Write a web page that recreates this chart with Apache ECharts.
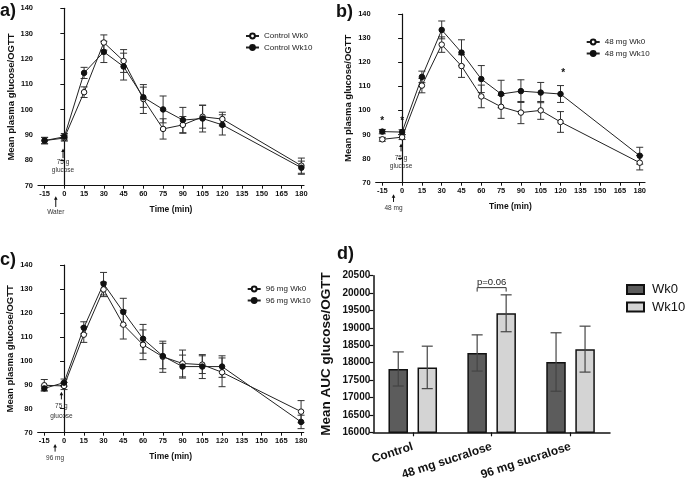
<!DOCTYPE html>
<html><head><meta charset="utf-8">
<script src="https://cdn.jsdelivr.net/npm/echarts@6/dist/echarts.min.js"></script>
<style>html,body{margin:0;padding:0;background:#fff}#c{width:685px;height:482px}</style>
</head><body><div id="c"></div>
<script>
// ---- data ----
const times = [-15, 0, 15, 30, 45, 60, 75, 90, 105, 120, 180];
const xTicks = [-15, 0, 15, 30, 45, 60, 75, 90, 105, 120, 135, 150, 165, 180];
const ctrlWk0 = [87.8, 88.8, 106.9, 126.5, 119.2, 104.2, 92.4, 94.0, 97.2, 96.3, 77.9];
const ctrlWk0Err = [1.3, 1.2, 2.1, 3.0, 4.5, 5.7, 4.0, 3.3, 4.5, 2.7, 3.0];
const ctrlWk10 = [87.8, 89.3, 114.5, 122.8, 117.0, 104.9, 100.1, 95.9, 96.5, 94.0, 77.1];
const ctrlWk10Err = [1.2, 1.3, 2.2, 4.2, 5.3, 4.0, 5.3, 5.0, 5.3, 4.0, 2.6];
const mg48Wk0 = [88.0, 88.9, 110.3, 127.3, 118.4, 105.8, 101.5, 99.1, 100.0, 95.2, 78.3];
const mg48Wk0Err = [0.8, 1.0, 3.0, 3.2, 4.7, 4.7, 4.8, 4.6, 3.7, 4.3, 3.0];
const mg48Wk10 = [91.2, 91.0, 113.9, 133.4, 124.0, 113.0, 106.8, 108.0, 107.4, 106.8, 81.2];
const mg48Wk10Err = [0.9, 1.0, 2.4, 3.7, 5.3, 5.6, 5.7, 4.7, 4.2, 3.5, 3.5];
const mg96Wk0 = [89.8, 89.5, 110.9, 129.8, 115.1, 106.7, 101.7, 98.9, 98.4, 95.2, 78.8];
const mg96Wk0Err = [2.4, 1.5, 3.2, 3.0, 6.0, 6.2, 6.5, 5.6, 3.7, 6.0, 4.6];
const mg96Wk10 = [88.5, 90.9, 113.8, 132.2, 120.4, 109.2, 102.0, 97.6, 97.6, 97.6, 74.5];
const mg96Wk10Err = [1.0, 1.5, 2.5, 4.7, 5.7, 6.0, 5.3, 4.8, 5.0, 4.5, 2.8];
const groups = ['Control', '48 mg sucralose', '96 mg sucralose'];
const aucWk0 = [17820, 18280, 18020];
const aucWk0Err = [490, 520, 840];
const aucWk10 = [17865, 19420, 18390];
const aucWk10Err = [610, 530, 660];

const FONT = 'Liberation Sans, Arial, Helvetica, sans-serif';
const INK = '#111';

function lineSeries(name, gi, vals, open) {
  return {
    type: 'line', name, xAxisIndex: gi, yAxisIndex: gi,
    data: times.map((t, i) => [t, vals[i]]),
    symbol: 'circle', symbolSize: 5.5, z: 3,
    lineStyle: { color: '#222', width: 1 },
    itemStyle: { color: open ? '#fff' : INK, borderColor: INK, borderWidth: 1 }
  };
}
function errSeries(gi, vals, errs) {
  return {
    type: 'custom', xAxisIndex: gi, yAxisIndex: gi, z: 2,
    data: times.map((t, i) => [t, vals[i] - errs[i], vals[i] + errs[i]]),
    encode: { x: 0, y: [1, 2] },
    renderItem(params, api) {
      const x = api.value(0);
      const lo = api.coord([x, api.value(1)]);
      const hi = api.coord([x, api.value(2)]);
      const w = 3.5, st = { stroke: '#333', lineWidth: 1 };
      return { type: 'group', children: [
        { type: 'line', shape: { x1: lo[0], y1: lo[1], x2: hi[0], y2: hi[1] }, style: st },
        { type: 'line', shape: { x1: lo[0] - w, y1: lo[1], x2: lo[0] + w, y2: lo[1] }, style: st },
        { type: 'line', shape: { x1: hi[0] - w, y1: hi[1], x2: hi[0] + w, y2: hi[1] }, style: st }
      ]};
    }
  };
}
function barErr(vals, errs, off) {
  return {
    type: 'custom', xAxisIndex: 3, yAxisIndex: 3, z: 4,
    data: vals.map((v, i) => [i, v - errs[i], v + errs[i]]),
    encode: { x: 0, y: [1, 2] },
    renderItem(params, api) {
      const c = api.value(0);
      const lo = api.coord([c, api.value(1)]);
      const hi = api.coord([c, api.value(2)]);
      const x = lo[0] + off, w = 5.5, st = { stroke: '#444', lineWidth: 1.2 };
      return { type: 'group', children: [
        { type: 'line', shape: { x1: x, y1: lo[1], x2: x, y2: hi[1] }, style: st },
        { type: 'line', shape: { x1: x - w, y1: lo[1], x2: x + w, y2: lo[1] }, style: st },
        { type: 'line', shape: { x1: x - w, y1: hi[1], x2: x + w, y2: hi[1] }, style: st }
      ]};
    }
  };
}
const axLine = { show: true, lineStyle: { color: INK, width: 1.2 } };
function timeAxis(gi, max) {
  return {
    type: 'value', gridIndex: gi, min: -20, max,
    name: 'Time (min)', nameLocation: 'middle', nameGap: 19,
    nameTextStyle: { fontWeight: 'bold', fontSize: 8.5, color: INK, fontFamily: FONT },
    axisLine: axLine,
    axisTick: { show: true, length: 3, customValues: xTicks, lineStyle: { color: INK, width: 1 } },
    axisLabel: { customValues: xTicks, fontSize: 7.5, fontWeight: 'bold', color: INK, margin: 4, fontFamily: FONT },
    splitLine: { show: false }
  };
}
function glucAxis(gi, gap) {
  return {
    type: 'value', gridIndex: gi, min: 70, max: 140, interval: 10,
    name: 'Mean plasma glucose/OGTT', nameLocation: 'middle', nameGap: gap,
    nameTextStyle: { fontWeight: 'bold', fontSize: 9.5, color: INK, fontFamily: FONT },
    axisLine: axLine,
    axisTick: { show: true, length: 4, lineStyle: { color: INK, width: 1 } },
    axisLabel: { fontSize: 7.5, fontWeight: 'bold', color: INK, margin: 5, fontFamily: FONT },
    splitLine: { show: false }
  };
}
function lineLegend(names, left, top) {
  return {
    data: names, orient: 'vertical', left, top, itemWidth: 13, itemHeight: 6, itemGap: 1.5,
    textStyle: { fontSize: 8, lineHeight: 10, color: '#222', fontFamily: FONT }, selectedMode: false
  };
}

const chart = echarts.init(document.getElementById('c'), null, { renderer: 'canvas' });
const option = {
  animation: false,
  backgroundColor: '#fff',
  textStyle: { fontFamily: FONT },
  grid: [
    { left: 38, top: 8.3, width: 266, height: 177.4 },
    { left: 375.7, top: 14, width: 269.3, height: 168.7 },
    { left: 37.7, top: 265, width: 266, height: 167.7 },
    { left: 373.3, top: 275.7, width: 236.7, height: 157.6 }
  ],
  xAxis: [
    timeAxis(0, 182), timeAxis(1, 184), timeAxis(2, 182),
    { type: 'category', gridIndex: 3, data: groups,
      axisLine: { show: true, lineStyle: { color: INK, width: 1.5 } },
      axisTick: { show: true, alignWithLabel: true, length: 4, lineStyle: { color: INK, width: 1.2 } },
      axisLabel: { rotate: 18, fontSize: 12, fontWeight: 'bold', color: INK, margin: 14, fontFamily: FONT, interval: 0 } }
  ],
  yAxis: [
    glucAxis(0, 22), glucAxis(1, 22), glucAxis(2, 22),
    { type: 'value', gridIndex: 3, min: 16000, max: 20500, interval: 500,
      name: 'Mean AUC glucose/OGTT', nameLocation: 'middle', nameGap: 40,
      nameTextStyle: { fontWeight: 'bold', fontSize: 13.5, color: INK, fontFamily: FONT },
      axisLine: { show: true, lineStyle: { color: INK, width: 1.5 } },
      axisTick: { show: true, length: 4, lineStyle: { color: INK, width: 1.2 } },
      axisLabel: { fontSize: 10, fontWeight: 'bold', color: INK, margin: 3, fontFamily: FONT, formatter: v => String(v) },
      splitLine: { show: false } }
  ],
  legend: [
    lineLegend(['Control Wk0', 'Control Wk10'], 240, 26),
    lineLegend(['48 mg Wk0', '48 mg Wk10'], 580.7, 32),
    lineLegend(['96 mg Wk0', '96 mg Wk10'], 241.7, 279),
    { data: ['Wk0', 'Wk10'], orient: 'vertical', left: 626, top: 283, itemWidth: 17, itemHeight: 9, itemGap: 4.5,
      icon: 'rect', selectedMode: false, padding: 0,
      textStyle: { fontSize: 13, lineHeight: 13, color: INK, fontFamily: FONT, padding: [0, 0, 0, 3] } }
  ],
  series: [
    errSeries(0, ctrlWk0, ctrlWk0Err), errSeries(0, ctrlWk10, ctrlWk10Err),
    lineSeries('Control Wk0', 0, ctrlWk0, true), lineSeries('Control Wk10', 0, ctrlWk10, false),
    errSeries(1, mg48Wk0, mg48Wk0Err), errSeries(1, mg48Wk10, mg48Wk10Err),
    lineSeries('48 mg Wk0', 1, mg48Wk0, true), lineSeries('48 mg Wk10', 1, mg48Wk10, false),
    errSeries(2, mg96Wk0, mg96Wk0Err), errSeries(2, mg96Wk10, mg96Wk10Err),
    lineSeries('96 mg Wk0', 2, mg96Wk0, true), lineSeries('96 mg Wk10', 2, mg96Wk10, false),
    { type: 'bar', name: 'Wk0', xAxisIndex: 3, yAxisIndex: 3, data: aucWk0, barWidth: 19.5, barGap: '49%',
      itemStyle: { color: '#5c5c5c', borderColor: INK, borderWidth: 1.5 } },
    { type: 'bar', name: 'Wk10', xAxisIndex: 3, yAxisIndex: 3, data: aucWk10, barWidth: 19.5, barGap: '49%',
      itemStyle: { color: '#d4d4d4', borderColor: INK, borderWidth: 1.5 } },
    barErr(aucWk0, aucWk0Err, -14.5), barErr(aucWk10, aucWk10Err, 14.5)
  ]
};
chart.setOption(option);

// ---- annotations (text and arrows placed through the axes) ----
const arrowNotes = [
  { gi: 0, x: -1, head: 84.7, tail: 80.9, lines: [['75 g', 79.3], ['glucose', 76.1]] },
  { gi: 0, x: -6.5, head: 65.8, tail: 61.6, lines: [['Water', 59.7]] },
  { gi: 1, x: -0.8, head: 86.3, tail: 83.0, lines: [['75 g', 80.1], ['glucose', 76.9]] },
  { gi: 1, x: -6.5, head: 65.2, tail: 62.0, lines: [['48 mg', 59.4]] },
  { gi: 2, x: -2, head: 87.1, tail: 83.9, lines: [['75 g', 80.9], ['glucose', 77.0]] },
  { gi: 2, x: -6.8, head: 65.3, tail: 62.1, lines: [['96 mg', 59.4]] }
];
const stars = [[-15, 96.4], [0, 96.4], [122, 116.3]];
const graphics = [];
arrowNotes.forEach(n => {
  const h = chart.convertToPixel({ gridIndex: n.gi }, [n.x, n.head]);
  const t = chart.convertToPixel({ gridIndex: n.gi }, [n.x, n.tail]);
  graphics.push({ type: 'line', shape: { x1: t[0], y1: t[1], x2: h[0], y2: h[1] + 2 }, style: { stroke: INK, lineWidth: 1 } });
  graphics.push({ type: 'polygon', shape: { points: [[h[0], h[1]], [h[0] - 1.8, h[1] + 3.5], [h[0] + 1.8, h[1] + 3.5]] }, style: { fill: INK } });
  n.lines.forEach(([txt, yv]) => {
    const p = chart.convertToPixel({ gridIndex: n.gi }, [n.x, yv]);
    graphics.push({ type: 'text', x: p[0], y: p[1], style: { text: txt, fontSize: 6.5, fill: '#333', align: 'center', verticalAlign: 'middle', fontFamily: FONT } });
  });
});
stars.forEach(s => {
  const p = chart.convertToPixel({ gridIndex: 1 }, s);
  graphics.push({ type: 'text', x: p[0], y: p[1] + 2, style: { text: '*', fontSize: 10, fontWeight: 'bold', fill: INK, align: 'center', verticalAlign: 'middle', fontFamily: FONT } });
});
// p-value bracket over 48 mg group
const bTop = chart.convertToPixel({ gridIndex: 3 }, [1, 20157]);
const bLeg = chart.convertToPixel({ gridIndex: 3 }, [1, 20043]);
const pTxt = chart.convertToPixel({ gridIndex: 3 }, [1, 20300]);
graphics.push({ type: 'polyline', shape: { points: [[bTop[0] - 14.5, bLeg[1]], [bTop[0] - 14.5, bTop[1]], [bTop[0] + 14.5, bTop[1]], [bTop[0] + 14.5, bLeg[1]]] }, style: { stroke: '#333', lineWidth: 1, fill: null } });
graphics.push({ type: 'text', x: bTop[0], y: pTxt[1], style: { text: 'p=0.06', fontSize: 9.5, fill: '#222', align: 'center', verticalAlign: 'middle', fontFamily: FONT } });
// panel letters
[['a)', 0, 11], ['b)', 336, 12], ['c)', 0, 260], ['d)', 337, 254]].forEach(([t, x, y]) => {
  graphics.push({ type: 'text', x, y, style: { text: t, fontSize: 18, fontWeight: 'bold', fill: INK, verticalAlign: 'middle', fontFamily: FONT } });
});
chart.setOption({ graphic: graphics });
</script>
</body></html>
